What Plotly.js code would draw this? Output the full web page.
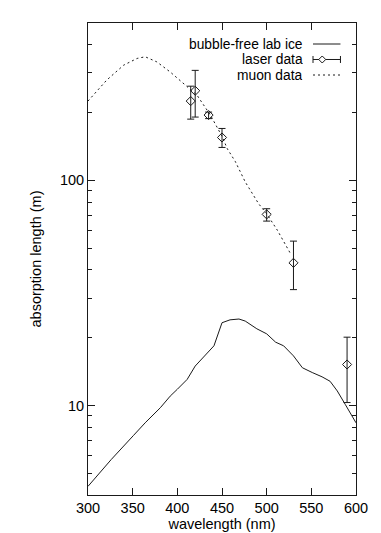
<!DOCTYPE html>
<html>
<head>
<meta charset="utf-8">
<script src="https://cdn.plot.ly/plotly-3.0.1.min.js"></script>
<style>html,body{margin:0;padding:0;background:#fff;}#chart{width:381px;height:533px;}</style>
</head>
<body>
<div id="chart"></div>
<script>
// bubble-free lab ice
var iceWavelength = [300, 326, 351, 364, 381, 392, 400, 411, 420, 441, 450, 459, 469, 476, 489, 500, 510, 519, 530, 540, 551, 562, 571, 579, 588, 600];
var iceLength = [4.37, 5.75, 7.36, 8.37, 9.77, 11.0, 11.8, 13.05, 14.96, 18.4, 23.3, 24.0, 24.2, 23.7, 21.9, 20.8, 19.1, 18.4, 16.6, 14.7, 14.0, 13.4, 12.8, 11.6, 10.1, 8.37];

// muon data
var muonWavelength = [300, 321, 340, 355, 364, 377, 392, 407, 422, 437, 450, 456, 465, 476, 484, 491, 500, 512, 527];
var muonLength = [225, 279, 325, 348, 354, 336, 303, 269, 239, 195, 157, 138, 121, 98.4, 87.3, 78.7, 71, 60, 47];

// laser data
var laserWavelength = [415, 420, 435, 450, 500, 530, 590];
var laserLength = [225, 250, 195, 155, 70.6, 43, 15.2];
var laserUpper = [262, 308, 201, 170, 74.8, 53.7, 20.1];
var laserLower = [187, 191, 188, 140, 65.9, 32.7, 10.3];

var seriesNames = ['bubble-free lab ice', 'laser data', 'muon data'];
var xTicks = [300, 350, 400, 450, 500, 550, 600];
var yTicks = [10, 100];
var yTickText = ['10', '100'];
var yMinorTicks = [5, 6, 7, 8, 9, 20, 30, 40, 50, 60, 70, 80, 90, 200, 300, 400];

var ink = '#1a1a1a';
var font = {family: 'Liberation Sans, Arial, Helvetica, sans-serif', size: 14.5, color: '#000'};
var legendFont = {family: 'Liberation Sans, Arial, Helvetica, sans-serif', size: 13.8, color: '#000'};

var traces = [
  {x: iceWavelength, y: iceLength, mode: 'lines', type: 'scatter', name: seriesNames[0],
   line: {color: ink, width: 1}},
  {x: laserWavelength, y: laserLength, mode: 'markers', type: 'scatter', name: seriesNames[1],
   marker: {symbol: 'diamond-open', size: 7, color: ink, line: {width: 1, color: ink}},
   error_y: {type: 'data', symmetric: false,
     array: laserUpper.map(function (v, i) { return v - laserLength[i]; }),
     arrayminus: laserLower.map(function (v, i) { return laserLength[i] - v; }),
     color: ink, thickness: 1, width: 3.5}},
  {x: muonWavelength, y: muonLength, mode: 'lines', type: 'scatter', name: seriesNames[2],
   line: {color: ink, width: 1, dash: '2px,3px'}}
];

// legend (gnuplot style: text right, sample at the right)
var legY = [0.9555, 0.9227, 0.8898];
var lx0 = 0.8396, lx1 = 0.942, textX = 0.807;
var annotations = seriesNames.map(function (n, i) {
  return {text: n, xref: 'paper', yref: 'paper', x: textX, y: legY[i], xanchor: 'right', yanchor: 'middle',
          height: 13, borderpad: 0, showarrow: false, font: legendFont};
});
var shapes = [
  {type: 'line', xref: 'paper', yref: 'paper', x0: lx0, x1: lx1, y0: legY[0], y1: legY[0], line: {color: ink, width: 1}},
  {type: 'line', xref: 'paper', yref: 'paper', x0: lx0, x1: lx1, y0: legY[1], y1: legY[1], line: {color: ink, width: 1}},
  {type: 'line', xref: 'paper', yref: 'paper', x0: lx0, x1: lx0, y0: legY[1] - 0.0074, y1: legY[1] + 0.0074, line: {color: ink, width: 1}},
  {type: 'line', xref: 'paper', yref: 'paper', x0: lx1, x1: lx1, y0: legY[1] - 0.0074, y1: legY[1] + 0.0074, line: {color: ink, width: 1}},
  {type: 'path', xref: 'paper', yref: 'paper', xsizemode: 'pixel', ysizemode: 'pixel', xanchor: 0.874, yanchor: legY[1],
   path: 'M-3.5,0 L0,3.5 L3.5,0 L0,-3.5 Z', fillcolor: '#fff', line: {color: ink, width: 1}},
  {type: 'line', xref: 'paper', yref: 'paper', x0: lx0, x1: lx1, y0: legY[2], y1: legY[2], line: {color: ink, width: 1, dash: '2px,3px'}}
];

var layout = {
  width: 381, height: 533,
  margin: {l: 88, r: 25, t: 23, b: 38, pad: 0},
  paper_bgcolor: '#fff', plot_bgcolor: '#fff',
  font: font,
  showlegend: false,
  xaxis: {
    range: [300, 600], tickvals: xTicks, ticks: 'inside', ticklen: 7, tickcolor: ink, tickwidth: 1,
    showline: true, linecolor: ink, linewidth: 1, mirror: 'ticks', showgrid: false, zeroline: false,
    tickfont: font, title: {text: 'wavelength (nm)', font: font, standoff: 2}
  },
  yaxis: {
    type: 'log', range: [Math.log10(4), Math.log10(500)],
    tickmode: 'array', tickvals: yTicks, ticktext: yTickText,
    ticks: 'inside', ticklen: 7, tickcolor: ink, tickwidth: 1,
    minor: {tickmode: 'array', tickvals: yMinorTicks, ticks: 'inside', ticklen: 4, tickcolor: ink, tickwidth: 1, showgrid: false},
    showline: true, linecolor: ink, linewidth: 1, mirror: 'ticks', showgrid: false, zeroline: false,
    tickfont: font, title: {text: 'absorption length (m)', font: font, standoff: 14}
  },
  annotations: annotations,
  shapes: shapes
};

Plotly.newPlot('chart', traces, layout, {staticPlot: true, displayModeBar: false});
</script>
</body>
</html>
